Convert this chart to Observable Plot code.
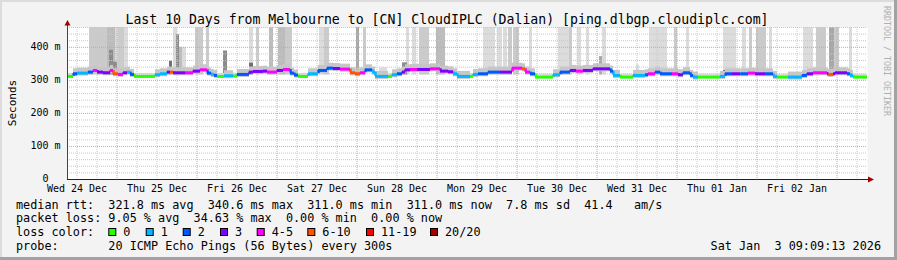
<!DOCTYPE html>
<html><head><meta charset="utf-8">
<script src="https://cdn.jsdelivr.net/npm/d3@7"></script>
<script src="https://cdn.jsdelivr.net/npm/@observablehq/plot@0.6"></script>
<style>
html,body{margin:0;padding:0;background:#f3f3f3;}
#wrap{position:relative;width:897px;height:260px;background:#f3f3f3;overflow:hidden;
  box-shadow: inset -3px -3px 0 #a2a2a2, inset 2px 2px 0 #dcdcdc;}
#wrap svg{position:absolute;left:0;top:0;}
#wrap svg text{white-space:pre;}
</style></head><body><div id="wrap"></div>
<script>
// ---------------- DATA ----------------
// time axis: hours since start (Wed 24 Dec 09:09), 240 h = 10 days
const dayLabels = ["Wed 24 Dec","Thu 25 Dec","Fri 26 Dec","Sat 27 Dec","Sun 28 Dec","Mon 29 Dec","Tue 30 Dec","Wed 31 Dec","Thu 01 Jan","Fri 02 Jan"];
const dayLabelHours = [2.85,26.85,50.85,74.85,98.85,122.85,146.85,170.85,194.85,218.85];
const midnightHours = [14.85,38.85,62.85,86.85,110.85,134.85,158.85,182.85,206.85,230.85];
const yTicks = [0,100,200,300,400];
const yTickLabels = ["0  ","100 m","200 m","300 m","400 m"];

// median rtt (ms) as steps: start hour, value, loss class
const segStart = [0,1.8,3,6.3,7.8,9,10.8,12.9,13.8,15.3,16.8,18,18.9,20.1,26.4,27.9,30,30.9,31.8,35.4,37.8,39.9,42,43.2,44.1,45,47.1,49.8,51,54.6,55.8,58.8,60,63,64.8,66.9,68.1,69.3,72.3,75.3,78,79.8,81.9,84.9,86.4,87.9,89.4,91.5,92.4,96.3,97.5,99,100.5,101.4,102.9,105,108.9,111.9,114.3,115.8,117,120.9,121.8,123.3,126.3,129.9,133.5,136.5,137.4,138.9,140.4,145.8,147.9,150.9,152.7,154.8,157.8,162.9,163.8,165.9,169.8,173.4,174.3,176.4,177.9,181.5,183.3,184.8,186.9,187.8,189.3,195.9,197.4,199.5,202,204.3,206.4,209.4,211.8,213,216.3,220.5,222,223.8,228,228.3,229.8,230.4,234,234.9,235.8];
const segMs =    [312,320,322,325,330,325,323,330,320,318,323,325,318,312,317,320,325,325,323,323,328,332,322,318,315,312,314,313,318,325,327,328,325,330,333,322,316,312,320,330,337,336,334,323,320,323,332,325,312,312,317,320,325,332,333,333,335,328,326,320,312,312,318,320,325,325,337,335,325,320,310,317,325,330,328,330,335,328,315,310,315,317,320,325,320,320,317,323,315,310,310,312,320,320,320,322,320,320,312,310,310,315,320,323,320,318,320,323,320,315,310];
const segLoss =  [0,2,1,2,4,3,3,4,5,4,3,1,2,0,1,1,3,5,3,4,3,4,2,1,2,0,1,0,2,3,3,3,4,3,4,2,2,0,1,2,2,3,4,5,5,4,2,1,1,0,1,2,3,3,4,3,4,3,3,1,1,0,1,2,2,3,4,5,4,2,0,1,2,3,4,3,3,2,1,0,1,2,4,2,2,4,3,2,2,1,0,1,2,3,2,4,3,2,1,0,1,2,3,4,3,5,3,3,2,1,0];
const endHour = 240;

// smoke bands: start hour, end hour, top (ms), density level
const bandStart = [6.6,12.0,14.4,15.3,17.1,31.8,33.6,34.5,38.4,41.7,54.6,56.7,60.6,63.3,65.4,75.6,77.1,86.7,88.8,93.6,101.7,103.5,105.6,110.7,124.8,129.0,130.8,132.3,133.8,138.6,147.3,150.6,153.0,155.7,160.5,170.7,174.6,182.1,185.7,196.8,202.5,204.6,206.7,210.6,220.8,224.7,228.6,230.1,233.7,234.6, 12.6,13.8,30.6,32.7,46.8,54.6,100.5,159.6,196.8];
const bandEnd =   [12.0,14.4,15.3,17.1,18.3,33.0,34.5,35.7,40.8,42.6,55.8,57.6,61.8,65.4,67.5,77.1,78.6,87.6,89.7,96.0,102.6,104.7,108.6,113.4,128.4,130.5,132.0,133.5,135.6,139.5,150.6,151.5,154.2,156.6,161.7,171.6,180.0,183.0,186.6,200.7,203.7,205.5,209.7,211.5,223.8,227.7,230.1,231.6,234.3,235.5, 13.8,15.0,31.5,33.6,48.0,55.8,102.0,160.5,197.7];
const bandTop =   [460,460,460,460,460,460,400,400,460,460,460,460,460,460,460,460,460,460,460,338,460,460,460,460,460,460,460,460,460,460,460,460,460,460,460,347,460,460,460,460,460,460,460,460,460,460,460,460,337,460, 391,355,358,438,389,352,353,372,330];
const bandLevel = [2,3,1,2,1,1,3,1,2,2,1,2,3,3,2,1,2,4,2,1,1,1,2,3,1,1,1,2,2,1,1,2,1,1,1,1,1,2,1,1,1,2,2,1,1,2,4,2,1,1, 5,5,6,5,5,6,5,4,6];
const smokeFloor = 316;

// loss colour legend
const lossLabels = ["0","1","2","3","4-5","6-10","11-19","20/20"];
const lossColors = ["#26ff00","#00b8ff","#0059ff","#7e00ff","#ff00ff","#ff5500","#ff0000","#a10000"];

// texts
const titleText = "Last 10 Days from Melbourne to [CN] CloudIPLC (Dalian) [ping.dlbgp.cloudiplc.com]";
const rttLabel = "median rtt:";
const rttStats = ["321.8 ms avg","340.6 ms max","311.0 ms min","311.0 ms now","7.8 ms sd","41.4   am/s"];
const lossLabel = "packet loss:";
const lossStats = ["9.05 % avg","34.63 % max","0.00 % min","0.00 % now"];
const lossColorLabel = "loss color:";
const probeLabel = "probe:";
const probeText = "20 ICMP Echo Pings (56 Bytes) every 300s";
const dateText = "Sat Jan  3 09:09:13 2026";
const yLabel = "Seconds";
const watermark = "RRDTOOL / TOBI OETIKER";

// ---------------- BUILD ----------------
const shades = {1:"#dcdcdc",2:"#cbcbcb",3:"#bcbcbc",4:"#a8a8a8",5:"#8c8c8c",6:"#707070"};
const segs = segStart.map((t,i)=>({t0:t, t1: i<segStart.length-1 ? segStart[i+1] : endHour, ms:segMs[i], loss:segLoss[i]}));
const conns = segs.slice(1).map((s,i)=>({t:s.t0, a:segs[i].ms, b:s.ms, loss:s.loss}));
const bands = bandStart.map((t,i)=>({t0:t,t1:bandEnd[i],top:bandTop[i],level:bandLevel[i]})).sort((a,b)=>a.level-b.level);

const mono = "'DejaVu Sans Mono', monospace";
const chart = Plot.plot({
  width:897, height:260, marginLeft:67, marginRight:30, marginTop:27, marginBottom:81,
  x:{domain:[0,240], axis:null},
  y:{domain:[0,460], axis:null},
  style:{background:"transparent", fontFamily:mono, fontSize:"10px", color:"#000", overflow:"visible"},
  marks:[
    Plot.frame({fill:"#ffffff", stroke:"none"}),
    Plot.rect(bands, {x1:"t0", x2:"t1", y1:smokeFloor, y2:"top", fill:d=>shades[d.level]}),
    Plot.ruleY(segs.filter(d=>d.loss>0), {y:"ms", x1:"t0", x2:"t1", stroke:"#c6c6c6", strokeWidth:8, dy:-1.5}),
    Plot.ruleY(segs.filter(d=>d.loss===0), {y:"ms", x1:"t0", x2:"t1", stroke:"#dedede", strokeWidth:5, dy:-1}),
    Plot.ruleY(d3.range(20,461,20).filter(v=>v%100!==0), {stroke:"#c8c8c8", strokeDasharray:"1,1", strokeWidth:1}),
    Plot.ruleX(d3.range(2.85,240,6).filter(v=>!midnightHours.some(m=>Math.abs(m-v)<0.01)), {stroke:"#c8c8c8", strokeDasharray:"1,1", strokeWidth:1}),
    Plot.ruleY([100,200,300,400], {stroke:"#e59a9a", strokeDasharray:"1,1", strokeWidth:1}),
    Plot.ruleX(midnightHours, {stroke:"#e59a9a", strokeDasharray:"1,1", strokeWidth:1}),
    Plot.ruleX(conns, {x:"t", y1:"a", y2:"b", stroke:d=>lossColors[d.loss], strokeWidth:2.5}),
    Plot.ruleY(segs, {y:"ms", x1:"t0", x2:"t1", stroke:d=>lossColors[d.loss], strokeWidth:3}),
    Plot.axisX({ticks:dayLabelHours, tickFormat:d=>dayLabels[dayLabelHours.indexOf(d)], tickSize:0, tickPadding:5, fontSize:10}),
    Plot.axisY({ticks:yTicks, tickFormat:d=>yTickLabels[yTicks.indexOf(d)], tickSize:0, tickPadding:7, fontSize:10, dy:-1})
  ]
});
const wrap = document.getElementById("wrap");
wrap.appendChild(chart);

// axes lines and arrows from the scales
const sx = chart.scale("x"), sy = chart.scale("y");
const X0 = sx.apply(0), X1 = sx.apply(240), Y0 = sy.apply(0), YT = sy.apply(460);
const svg = d3.select(chart);
svg.append("line").attr("x1",X0).attr("x2",X1+3).attr("y1",Y0+0.5).attr("y2",Y0+0.5).attr("stroke","#222");
svg.append("line").attr("x1",X0+0.5).attr("x2",X0+0.5).attr("y1",Y0).attr("y2",YT-2).attr("stroke","#444");
svg.append("path").attr("d",`M${X1+1},${Y0-2.5}L${X1+7},${Y0+0.5}L${X1+1},${Y0+3.5}Z`).attr("fill","#a00000");
svg.append("path").attr("d",`M${X0-2.5},${YT-1.5}L${X0+0.5},${YT-7}L${X0+3.5},${YT-1.5}Z`).attr("fill","#a00000");

// overlay texts
const ov = d3.select(wrap).append("svg").attr("width",897).attr("height",260)
  .style("font-family",mono).style("pointer-events","none");
function txt(x,y,s,size,anchor){
  return ov.append("text").attr("x",x).attr("y",y).attr("font-size",size).attr("fill","#000")
    .attr("text-anchor",anchor||"start").text(s);
}
txt(447,24,titleText,"13.2px","middle");
ov.append("text").attr("transform","translate(16,103) rotate(-90)").attr("text-anchor","middle")
  .attr("font-size","11px").attr("fill","#000").text(yLabel);
ov.append("text").attr("transform","translate(884,6) rotate(90)").attr("text-anchor","start")
  .attr("font-size","8.3px").attr("fill","#b0b0b0").text(watermark);

const LF = "11.8px";
txt(16,208.5,rttLabel+"  "+rttStats.join("  "),LF);
txt(16,222,lossLabel+" "+lossStats.join("  "),LF);
txt(16,235.7,lossColorLabel,LF);
const boxX = [108.3,145.7,182.7,220,256.7,307.3,366,430];
lossLabels.forEach((s,i)=>{
  ov.append("rect").attr("x",boxX[i]+0.5).attr("y",228.5).attr("width",7).attr("height",7)
    .attr("fill",lossColors[i]).attr("stroke","#000").attr("stroke-width",1);
  txt(boxX[i]+15,235.7,s,LF);
});
txt(16,249.5,probeLabel.padEnd(13)+probeText,LF);
txt(881,249.5,dateText,LF,"end");
</script></body></html>
